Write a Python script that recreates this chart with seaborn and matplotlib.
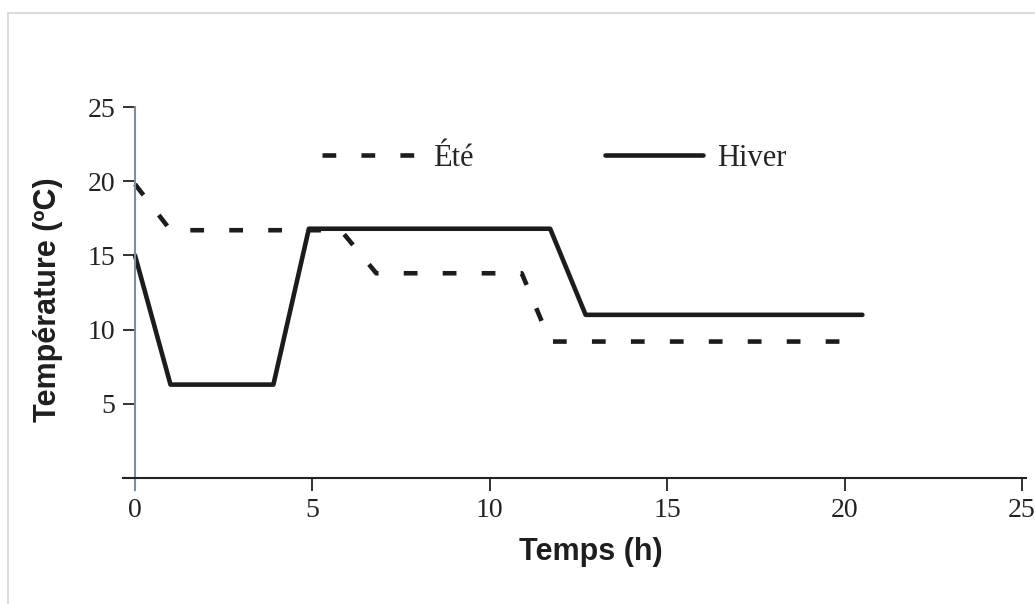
import numpy as np
import pandas as pd
import matplotlib
matplotlib.use("Agg")
import matplotlib.pyplot as plt
import seaborn as sns
from matplotlib.lines import Line2D
from matplotlib.patches import Rectangle

# ---- data ----
series = ["Été", "Hiver"]
temps_ete = [0, 1.0, 5.8, 6.8, 10.9, 11.7, 20.5]
temp_ete = [19.8, 16.7, 16.7, 13.8, 13.8, 9.2, 9.2]
temps_hiver = [0, 1.0, 3.9, 4.9, 11.7, 12.7, 20.5]
temp_hiver = [15.0, 6.3, 6.3, 16.8, 16.8, 11.0, 11.0]
xticks = [0, 5, 10, 15, 20, 25]
yticks = [5, 10, 15, 20, 25]

df = pd.concat([
    pd.DataFrame({"Temps": temps_ete, "Temp": temp_ete, "Saison": series[0]}),
    pd.DataFrame({"Temps": temps_hiver, "Temp": temp_hiver, "Saison": series[1]}),
], ignore_index=True)

sns.set_style("white")
plt.rcParams["font.family"] = ["Liberation Serif", "DejaVu Serif"]

W, H = 1035, 604
fig = plt.figure(figsize=(W / 100, H / 100), dpi=100)
fig.patch.set_facecolor("white")

left_px, right_px, top_px, bot_px = 122.6, 1025.6, 107, 490
ax = fig.add_axes([left_px / W, 1 - bot_px / H, (right_px - left_px) / W, (bot_px - top_px) / H])

line_color = "#1c1c1c"
dash_map = {"Été": (3, 5.5), "Hiver": ""}
sns.lineplot(data=df, x="Temps", y="Temp", style="Saison", dashes=dash_map,
             color=line_color, linewidth=3.3, legend=False, sort=False,
             estimator=None, ax=ax)

ax.set_xlim(-0.35, 25.1)
ax.set_ylim(-0.8, 25)
ax.set_xticks(xticks)
ax.set_yticks(yticks)
ax.set_xticklabels([str(v) for v in xticks])
ax.set_yticklabels([str(v) for v in yticks])

for s in ("top", "right"):
    ax.spines[s].set_visible(False)
ax.spines["left"].set_position(("data", 0))
ax.spines["bottom"].set_position(("data", 0))
ax.spines["left"].set_color("#7d8ca3")
ax.spines["left"].set_linewidth(1.5)
ax.spines["bottom"].set_color("#222222")
ax.spines["bottom"].set_linewidth(1.5)

ax.tick_params(axis="x", direction="out", length=9, width=1.3, pad=5,
               labelsize=20, colors="#222222", bottom=True)
ax.tick_params(axis="y", direction="out", length=9, width=1.3, pad=5,
               labelsize=20, colors="#222222", left=True)
for lab in ax.get_xticklabels() + ax.get_yticklabels():
    lab.set_family(["Liberation Serif", "DejaVu Serif"])

ax.set_xlabel("Temps (h)", fontsize=22, fontweight="bold",
              family=["Liberation Sans", "DejaVu Sans"], color="#1e1e1e")
ax.set_ylabel("Température (ºC)", fontsize=22, fontweight="bold",
              family=["Liberation Sans", "DejaVu Sans"], color="#1e1e1e")
axw = right_px - left_px
axh = bot_px - top_px
ax.xaxis.set_label_coords((591 - left_px) / axw, (bot_px - 552) / axh)
ax.xaxis.label.set_va("center")
ax.yaxis.set_label_coords((48 - left_px) / axw, (bot_px - 300) / axh)
ax.yaxis.label.set_va("center")
ax.yaxis.label.set_ha("center")

handles = [
    Line2D([], [], color=line_color, linewidth=3.3, dashes=dash_map["Été"]),
    Line2D([], [], color=line_color, linewidth=3.3),
]
fig.legend(handles, series, loc="center left",
           bbox_to_anchor=(322 / W, 1 - 158 / H), bbox_transform=fig.transFigure,
           ncol=2, frameon=False, borderpad=0, borderaxespad=0,
           handlelength=3.2, handletextpad=0.45, columnspacing=4.3,
           prop={"family": ["Liberation Serif", "DejaVu Serif"], "size": 22})

# light frame around the picture
fig.add_artist(Rectangle((8 / W, -0.02), 1.1, (H - 13) / H + 0.02,
                         transform=fig.transFigure, fill=False,
                         edgecolor="#d4d4d4", linewidth=1.2))

fig.savefig("out.png", dpi=100, facecolor="white")
